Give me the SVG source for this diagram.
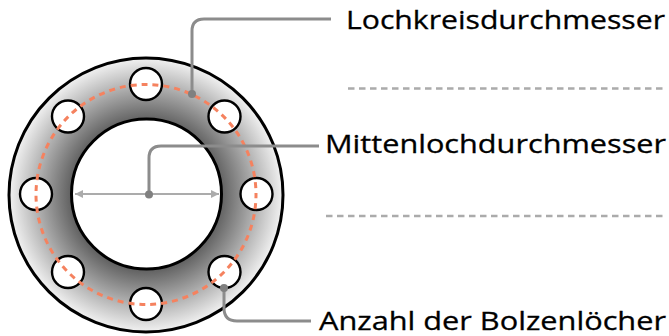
<svg xmlns="http://www.w3.org/2000/svg" width="669" height="336" viewBox="0 0 669 336">
<style>
.hole{fill:#fff;stroke:#000;stroke-width:2.400}
.lead{fill:none;stroke:#8c8c8c;stroke-width:3}
.dot{fill:#808080}
.sep{fill:none;stroke:#ababab;stroke-width:2.400;stroke-dasharray:6.500 4.500}
.lbl{font-family:"Open Sans","Noto Sans",sans-serif;font-size:26px;fill:#000;stroke:#000;stroke-width:0.300}
</style>
<defs>
<radialGradient id="g" gradientUnits="userSpaceOnUse" cx="146" cy="195" r="138">
<stop offset="0.54" stop-color="#606060"/>
<stop offset="1" stop-color="#f4f4f4"/>
</radialGradient>
<marker id="ah" markerWidth="10" markerHeight="10" refX="8" refY="4" orient="auto-start-reverse" markerUnits="userSpaceOnUse">
<path d="M0 0L8 4L0 8Z" fill="#ababab"/>
</marker>
</defs>
<g id="flange">
<circle cx="146" cy="195" r="137" fill="url(#g)" stroke="#000" stroke-width="3"/>
<circle cx="146.500" cy="194" r="75" fill="#fff" stroke="#000" stroke-width="3"/>
</g>
<g id="bolt-holes">
<circle class="hole" cx="146" cy="84" r="16"/>
<circle class="hole" cx="224.500" cy="116.500" r="16"/>
<circle class="hole" cx="256.500" cy="194" r="16"/>
<circle class="hole" cx="224.500" cy="272" r="16"/>
<circle class="hole" cx="146" cy="304" r="16"/>
<circle class="hole" cx="68" cy="272" r="16"/>
<circle class="hole" cx="36" cy="194" r="16"/>
<circle class="hole" cx="68" cy="116.500" r="16"/>
</g>
<circle id="bolt-circle" cx="146" cy="194.500" r="110" fill="none" stroke="#f5825f" stroke-width="3" stroke-dasharray="6 4.970" stroke-dashoffset="2.200"/>
<g id="connectors">
<path d="M75 194H219" fill="none" stroke="#ababab" stroke-width="2" marker-start="url(#ah)" marker-end="url(#ah)"/>
<path class="lead" d="M192 94V31Q192 19 204 19H331"/>
<circle class="dot" cx="192" cy="94" r="4"/>
<path class="lead" d="M149 194V158Q149 146 161 146H319"/>
<circle class="dot" cx="149" cy="194.500" r="4"/>
<path class="lead" d="M224 288V308Q224 321 237 321H311"/>
<circle class="dot" cx="224" cy="288" r="4"/>
<path class="sep" d="M348 88.500H665"/>
<path class="sep" d="M326 216H665"/>
</g>
<g id="label-lochkreis"><text class="lbl" x="346" y="29" textLength="319" lengthAdjust="spacingAndGlyphs">Lochkreisdurchmesser</text></g>
<g id="label-mittenloch"><text class="lbl" x="325" y="153" textLength="341" lengthAdjust="spacingAndGlyphs">Mittenlochdurchmesser</text></g>
<g id="label-anzahl"><text class="lbl" x="319" y="330" textLength="347" lengthAdjust="spacingAndGlyphs">Anzahl der Bolzenlöcher</text></g>
</svg>
